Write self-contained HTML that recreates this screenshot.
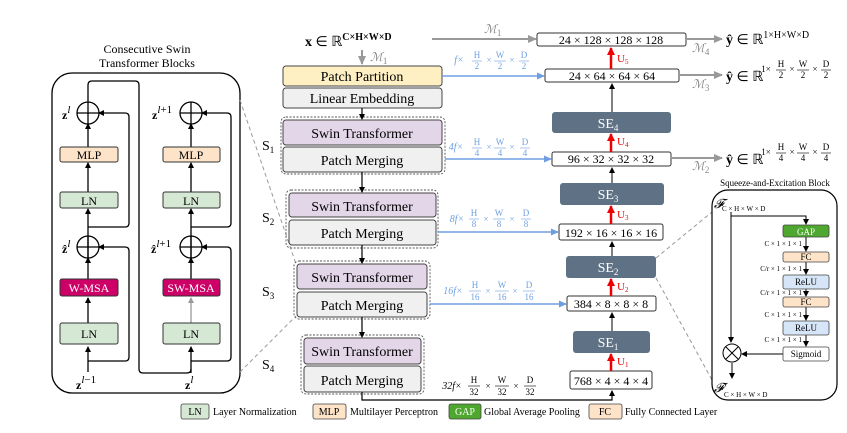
<!DOCTYPE html>
<html><head><meta charset="utf-8"><style>body{margin:0;background:#fff}svg{display:block;font-family:"Liberation Serif",serif}</style></head><body>
<svg width="847" height="433" viewBox="0 0 847 433" xmlns="http://www.w3.org/2000/svg">
<defs>
<marker id="ak" markerWidth="6" markerHeight="6" refX="5" refY="3" orient="auto" markerUnits="userSpaceOnUse"><path d="M0,0 L6,3 L0,6 z" fill="#000"/></marker>
<marker id="ag" markerWidth="9" markerHeight="8" refX="8" refY="4" orient="auto" markerUnits="userSpaceOnUse"><path d="M0,0 L9,4 L0,8 z" fill="#999"/></marker>
<marker id="ab" markerWidth="8" markerHeight="7" refX="7" refY="3.5" orient="auto" markerUnits="userSpaceOnUse"><path d="M0,0 L8,3.5 L0,7 z" fill="#6f9fe0"/></marker>
<marker id="ar" markerWidth="8" markerHeight="8" refX="7" refY="4" orient="auto" markerUnits="userSpaceOnUse"><path d="M0,0 L8,4 L0,8 z" fill="#e00"/></marker>
</defs>

<!-- Left panel -->
<text x="147" y="53" font-size="12" text-anchor="middle">Consecutive Swin</text>
<text x="147" y="67" font-size="12" text-anchor="middle">Transformer Blocks</text>
<rect x="52" y="73" width="188" height="320" rx="20" fill="none" stroke="#000" stroke-width="1.3"/>
<g stroke="#000" stroke-width="1.3" fill="none">
<line x1="88" y1="372" x2="88" y2="347" marker-end="url(#ak)"/>
<line x1="88" y1="323" x2="88" y2="298" marker-end="url(#ak)"/>
<line x1="88" y1="279" x2="88" y2="258" marker-end="url(#ak)"/>
<line x1="88" y1="258" x2="88" y2="209" marker-end="url(#ak)"/>
<line x1="88" y1="192" x2="88" y2="163" marker-end="url(#ak)"/>
<line x1="88" y1="147" x2="88" y2="124" marker-end="url(#ak)"/>
<path d="M88,361 H125 Q129,361 129,357 V251 Q129,247 125,247 H99" marker-end="url(#ak)"/>
<path d="M88,227 H125 Q129,227 129,223 V117 Q129,113 125,113 H99" marker-end="url(#ak)"/>
<path d="M88,102 V85 Q88,81 92,81 H135 Q139,81 139,85 V369 Q139,373 143,373 H187 Q191,373 191,369"/>
<circle cx="88" cy="113" r="11"/><line x1="77" y1="113" x2="99" y2="113"/><line x1="88" y1="102" x2="88" y2="124"/>
<circle cx="88" cy="247" r="11"/><line x1="77" y1="247" x2="99" y2="247"/><line x1="88" y1="236" x2="88" y2="258"/>
<line x1="191" y1="373" x2="191" y2="347" marker-end="url(#ak)"/>
<line x1="191" y1="323" x2="191" y2="298" stroke="#999"/>
<line x1="191" y1="279" x2="191" y2="258" marker-end="url(#ak)"/>
<line x1="191" y1="258" x2="191" y2="209" marker-end="url(#ak)"/>
<line x1="191" y1="192" x2="191" y2="163" marker-end="url(#ak)"/>
<line x1="191" y1="147" x2="191" y2="124" marker-end="url(#ak)"/>
<path d="M191,361 H227 Q231,361 231,357 V251 Q231,247 227,247 H202" marker-end="url(#ak)"/>
<path d="M191,227 H227 Q231,227 231,223 V117 Q231,113 227,113 H202" marker-end="url(#ak)"/>
<circle cx="191" cy="113" r="11"/><line x1="180" y1="113" x2="202" y2="113"/><line x1="191" y1="102" x2="191" y2="124"/>
<circle cx="191" cy="247" r="11"/><line x1="180" y1="247" x2="202" y2="247"/><line x1="191" y1="236" x2="191" y2="258"/>
</g>
<polygon points="188,303 194,303 191,297" fill="#999"/>
<g stroke="#333" stroke-width="1">
<rect x="60" y="147" width="58" height="15" rx="2" fill="#fde3c8"/>
<rect x="60" y="192" width="58" height="16" rx="2" fill="#d5e8d4"/>
<rect x="60" y="279" width="58" height="17" rx="2" fill="#cc0066"/>
<rect x="60" y="323" width="58" height="21" rx="2" fill="#d5e8d4"/>
<rect x="163" y="147" width="57" height="15" rx="2" fill="#fde3c8"/>
<rect x="163" y="192" width="57" height="16" rx="2" fill="#d5e8d4"/>
<rect x="163" y="279" width="57" height="17" rx="2" fill="#cc0066"/>
<rect x="163" y="323" width="57" height="21" rx="2" fill="#d5e8d4"/>
</g>
<g font-size="12" text-anchor="middle">
<text x="89" y="159">MLP</text><text x="89" y="205">LN</text><text x="89" y="292" fill="#fff">W-MSA</text><text x="89" y="338">LN</text>
<text x="191" y="159">MLP</text><text x="191" y="205">LN</text><text x="191" y="292" fill="#fff">SW-MSA</text><text x="191" y="338">LN</text>
</g>
<g font-size="12" font-weight="bold">
<text x="62" y="119">z<tspan font-weight="normal" font-style="italic" font-size="11" dy="-6">l</tspan></text>
<text x="62" y="253">ẑ<tspan font-weight="normal" font-style="italic" font-size="11" dy="-6">l</tspan></text>
<text x="152" y="119">z<tspan font-weight="normal" font-size="11" dy="-6"><tspan font-style="italic">l</tspan>+1</tspan></text>
<text x="151" y="253">ẑ<tspan font-weight="normal" font-size="11" dy="-6"><tspan font-style="italic">l</tspan>+1</tspan></text>
<text x="76" y="389">z<tspan font-weight="normal" font-size="11" dy="-6"><tspan font-style="italic">l</tspan>−1</tspan></text>
<text x="185" y="389">z<tspan font-weight="normal" font-style="italic" font-size="11" dy="-6">l</tspan></text>
</g>

<g stroke="#999" stroke-dasharray="4,3" fill="none">
<line x1="240" y1="100" x2="296" y2="264"/>
<line x1="240" y1="372" x2="296" y2="316"/>
<line x1="656" y1="258" x2="712" y2="212"/>
<line x1="656" y1="278" x2="712" y2="380"/>
</g>

<text x="305" y="46" font-size="14"><tspan font-weight="bold">x</tspan> ∈ ℝ<tspan font-size="10" dy="-6" font-weight="bold">C×H×W×D</tspan></text>
<line x1="432" y1="39" x2="536" y2="39" stroke="#999" stroke-width="2" marker-end="url(#ag)"/>
<text x="484" y="33" font-size="12" fill="#888" font-style="italic">ℳ<tspan font-size="9" dy="3" font-style="normal">1</tspan></text>
<line x1="362" y1="50" x2="362" y2="64" stroke="#999" stroke-width="2" marker-end="url(#ag)"/>
<text x="370" y="61" font-size="12" fill="#888" font-style="italic">ℳ<tspan font-size="9" dy="3" font-style="normal">1</tspan></text>

<g stroke="#444" stroke-width="1">
<rect x="283" y="66" width="159" height="20" rx="3" fill="#fff0c4"/>
<rect x="283" y="88" width="159" height="20" rx="3" fill="#f0f0f0"/>
</g>
<g stroke="#555" stroke-dasharray="2,1.5" fill="none" stroke-width="0.9">
<rect x="281" y="117" width="164" height="57" rx="5"/>
<rect x="286" y="190" width="152" height="58" rx="5"/>
<rect x="294" y="261" width="136" height="58" rx="5"/>
<rect x="301" y="335" width="123" height="59" rx="5"/>
</g>
<g stroke="#444" stroke-width="1">
<rect x="283" y="120" width="159" height="25" rx="3" fill="#e4d6e9"/>
<rect x="283" y="147" width="159" height="25" rx="3" fill="#f0f0f0"/>
<rect x="289" y="193" width="147" height="24" rx="3" fill="#e4d6e9"/>
<rect x="289" y="220" width="147" height="25" rx="3" fill="#f0f0f0"/>
<rect x="297" y="264" width="130" height="25" rx="3" fill="#e4d6e9"/>
<rect x="297" y="292" width="130" height="25" rx="3" fill="#f0f0f0"/>
<rect x="304" y="338" width="117" height="26" rx="3" fill="#e4d6e9"/>
<rect x="304" y="366" width="117" height="26" rx="3" fill="#f0f0f0"/>
</g>
<g font-size="14" text-anchor="middle">
<text x="362" y="81">Patch Partition</text>
<text x="362" y="103">Linear Embedding</text>
<text x="362" y="138">Swin Transformer</text>
<text x="362" y="165">Patch Merging</text>
<text x="362" y="211">Swin Transformer</text>
<text x="362" y="238">Patch Merging</text>
<text x="362" y="282">Swin Transformer</text>
<text x="362" y="310">Patch Merging</text>
<text x="362" y="356">Swin Transformer</text>
<text x="362" y="385">Patch Merging</text>
</g>
<g stroke="#000" stroke-width="1.2">
<line x1="362" y1="108" x2="362" y2="119" marker-end="url(#ak)"/>
<line x1="362" y1="172" x2="362" y2="192" marker-end="url(#ak)"/>
<line x1="362" y1="245" x2="362" y2="263" marker-end="url(#ak)"/>
<line x1="362" y1="317" x2="362" y2="337" marker-end="url(#ak)"/>
</g>
<path d="M362,392 V400 H612 V391" fill="none" stroke="#000" stroke-width="1.2" marker-end="url(#ak)"/>
<g font-size="14">
<text x="262" y="150">S<tspan font-size="9" dy="3">1</tspan></text>
<text x="262" y="222">S<tspan font-size="9" dy="3">2</tspan></text>
<text x="262" y="296">S<tspan font-size="9" dy="3">3</tspan></text>
<text x="262" y="369">S<tspan font-size="9" dy="3">4</tspan></text>
</g>

<g stroke="#6f9fe0" stroke-width="1.5">
<line x1="442" y1="76" x2="544" y2="76" marker-end="url(#ab)"/>
<line x1="445" y1="159" x2="551" y2="159" marker-end="url(#ab)"/>
<line x1="438" y1="232" x2="558" y2="232" marker-end="url(#ab)"/>
<line x1="430" y1="304" x2="566" y2="304" marker-end="url(#ab)"/>
</g>
<g font-size="9" fill="#6f9fe0" text-anchor="middle">
<text x="459" y="63" font-style="italic" font-size="10">f×</text>
<text x="477" y="58">H</text><line x1="472" y1="61" x2="482" y2="61" stroke="#6f9fe0" stroke-width="0.6"/><text x="477" y="69">2</text><text x="489" y="63">×</text>
<text x="500" y="58">W</text><line x1="494" y1="61" x2="506" y2="61" stroke="#6f9fe0" stroke-width="0.6"/><text x="500" y="69">2</text><text x="512" y="63">×</text>
<text x="524" y="58">D</text><line x1="519" y1="61" x2="529" y2="61" stroke="#6f9fe0" stroke-width="0.6"/><text x="524" y="69">2</text>

<text x="456" y="150" font-style="italic" font-size="10">4f×</text>
<text x="477" y="145">H</text><line x1="472" y1="148" x2="482" y2="148" stroke="#6f9fe0" stroke-width="0.6"/><text x="477" y="156">4</text><text x="489" y="150">×</text>
<text x="500" y="145">W</text><line x1="494" y1="148" x2="506" y2="148" stroke="#6f9fe0" stroke-width="0.6"/><text x="500" y="156">4</text><text x="512" y="150">×</text>
<text x="525" y="145">D</text><line x1="520" y1="148" x2="530" y2="148" stroke="#6f9fe0" stroke-width="0.6"/><text x="525" y="156">4</text>

<text x="457" y="222" font-style="italic" font-size="10">8f×</text>
<text x="474" y="216">H</text><line x1="469" y1="219" x2="479" y2="219" stroke="#6f9fe0" stroke-width="0.6"/><text x="474" y="227">8</text><text x="486" y="222">×</text>
<text x="499" y="216">W</text><line x1="493" y1="219" x2="505" y2="219" stroke="#6f9fe0" stroke-width="0.6"/><text x="499" y="227">8</text><text x="512" y="222">×</text>
<text x="526" y="216">D</text><line x1="521" y1="219" x2="531" y2="219" stroke="#6f9fe0" stroke-width="0.6"/><text x="526" y="227">8</text>

<text x="453" y="294" font-style="italic" font-size="10">16f×</text>
<text x="475" y="288">H</text><line x1="469" y1="291" x2="481" y2="291" stroke="#6f9fe0" stroke-width="0.6"/><text x="475" y="300">16</text><text x="488" y="294">×</text>
<text x="502" y="288">W</text><line x1="495" y1="291" x2="509" y2="291" stroke="#6f9fe0" stroke-width="0.6"/><text x="502" y="300">16</text><text x="515" y="294">×</text>
<text x="529" y="288">D</text><line x1="523" y1="291" x2="535" y2="291" stroke="#6f9fe0" stroke-width="0.6"/><text x="529" y="300">16</text>
</g>
<g font-size="9" text-anchor="middle">
<text x="452" y="389" font-style="italic" font-size="10">32f×</text>
<text x="474" y="383">H</text><line x1="468" y1="386" x2="480" y2="386" stroke="#000" stroke-width="0.6"/><text x="474" y="395">32</text><text x="488" y="389">×</text>
<text x="502" y="383">W</text><line x1="495" y1="386" x2="509" y2="386" stroke="#000" stroke-width="0.6"/><text x="502" y="395">32</text><text x="516" y="389">×</text>
<text x="530" y="383">D</text><line x1="524" y1="386" x2="536" y2="386" stroke="#000" stroke-width="0.6"/><text x="530" y="395">32</text>
</g>

<g stroke="#333" stroke-width="1" fill="#fff">
<rect x="537" y="33" width="149" height="13" rx="2"/>
<rect x="545" y="69" width="134" height="13" rx="2"/>
<rect x="552" y="152" width="119" height="14" rx="2"/>
<rect x="559" y="224" width="104" height="16" rx="2"/>
<rect x="567" y="296" width="89" height="15" rx="2"/>
<rect x="570" y="371" width="82" height="18" rx="2"/>
</g>
<g fill="#5f7184">
<rect x="552" y="112" width="119" height="21" rx="3"/>
<rect x="560" y="183" width="104" height="22" rx="3"/>
<rect x="566" y="256" width="90" height="22" rx="3"/>
<rect x="573" y="331" width="77" height="22" rx="3"/>
</g>
<g font-size="12" text-anchor="middle">
<text x="611" y="44">24 × 128 × 128 × 128</text>
<text x="612" y="80">24 × 64 × 64 × 64</text>
<text x="611" y="163">96 × 32 × 32 × 32</text>
<text x="611" y="237">192 × 16 × 16 × 16</text>
<text x="611" y="308">384 × 8 × 8 × 8</text>
<text x="611" y="385">768 × 4 × 4 × 4</text>
</g>
<g font-size="14" text-anchor="middle" fill="#fff">
<text x="608" y="128">SE<tspan font-size="9" dy="3">4</tspan></text>
<text x="608" y="199">SE<tspan font-size="9" dy="3">3</tspan></text>
<text x="608" y="272">SE<tspan font-size="9" dy="3">2</tspan></text>
<text x="608" y="347">SE<tspan font-size="9" dy="3">1</tspan></text>
</g>
<g stroke="#000" stroke-width="1">
<line x1="612" y1="112" x2="612" y2="84" marker-end="url(#ak)"/>
<line x1="612" y1="183" x2="612" y2="168" marker-end="url(#ak)"/>
<line x1="612" y1="256" x2="612" y2="242" marker-end="url(#ak)"/>
<line x1="612" y1="331" x2="612" y2="313" marker-end="url(#ak)"/>
</g>
<g stroke="#e00" stroke-width="2.5">
<line x1="611" y1="69" x2="611" y2="48" marker-end="url(#ar)"/>
<line x1="611" y1="152" x2="611" y2="134" marker-end="url(#ar)"/>
<line x1="611" y1="224" x2="611" y2="206" marker-end="url(#ar)"/>
<line x1="611" y1="296" x2="611" y2="279" marker-end="url(#ar)"/>
<line x1="611" y1="371" x2="611" y2="354" marker-end="url(#ar)"/>
</g>
<g font-size="11" fill="#e00">
<text x="617" y="62">U<tspan font-size="7" dy="2">5</tspan></text>
<text x="617" y="145">U<tspan font-size="7" dy="2">4</tspan></text>
<text x="617" y="218">U<tspan font-size="7" dy="2">3</tspan></text>
<text x="617" y="290">U<tspan font-size="7" dy="2">2</tspan></text>
<text x="617" y="365">U<tspan font-size="7" dy="2">1</tspan></text>
</g>

<g stroke="#999" stroke-width="2">
<line x1="686" y1="39" x2="722" y2="39" marker-end="url(#ag)"/>
<line x1="679" y1="75" x2="722" y2="75" marker-end="url(#ag)"/>
<line x1="671" y1="158" x2="722" y2="158" marker-end="url(#ag)"/>
</g>
<g font-size="12" fill="#888" font-style="italic">
<text x="692" y="52">ℳ<tspan font-size="9" dy="3" font-style="normal">4</tspan></text>
<text x="692" y="88">ℳ<tspan font-size="9" dy="3" font-style="normal">3</tspan></text>
<text x="692" y="170">ℳ<tspan font-size="9" dy="3" font-style="normal">2</tspan></text>
</g>
<g font-size="14">
<text x="726" y="44"><tspan font-weight="bold">ŷ</tspan> ∈ ℝ<tspan font-size="10" dy="-6">1×H×W×D</tspan></text>
<text x="726" y="81"><tspan font-weight="bold">ŷ</tspan> ∈ ℝ</text>
<text x="726" y="164"><tspan font-weight="bold">ŷ</tspan> ∈ ℝ</text>
</g>
<g font-size="9" text-anchor="middle">
<text x="766" y="72">1×</text>
<text x="781" y="67">H</text><line x1="776" y1="70" x2="786" y2="70" stroke="#000" stroke-width="0.6"/><text x="781" y="78">2</text><text x="792" y="72">×</text>
<text x="803" y="67">W</text><line x1="797" y1="70" x2="809" y2="70" stroke="#000" stroke-width="0.6"/><text x="803" y="78">2</text><text x="815" y="72">×</text>
<text x="826" y="67">D</text><line x1="821" y1="70" x2="831" y2="70" stroke="#000" stroke-width="0.6"/><text x="826" y="78">2</text>

<text x="766" y="155">1×</text>
<text x="781" y="150">H</text><line x1="776" y1="153" x2="786" y2="153" stroke="#000" stroke-width="0.6"/><text x="781" y="161">4</text><text x="792" y="155">×</text>
<text x="803" y="150">W</text><line x1="797" y1="153" x2="809" y2="153" stroke="#000" stroke-width="0.6"/><text x="803" y="161">4</text><text x="815" y="155">×</text>
<text x="826" y="150">D</text><line x1="821" y1="153" x2="831" y2="153" stroke="#000" stroke-width="0.6"/><text x="826" y="161">4</text>
</g>

<text x="775" y="186" font-size="9" text-anchor="middle">Squeeze-and-Excitation Block</text>
<rect x="712" y="190" width="125" height="210" rx="16" fill="none" stroke="#000" stroke-width="1.2"/>
<text x="714" y="208" font-size="13" font-style="italic">𝓕</text>
<text x="722" y="211" font-size="7">C × H × W × D</text>
<g stroke="#000" stroke-width="1" fill="none">
<line x1="731" y1="212" x2="731" y2="342" marker-end="url(#ak)"/>
<path d="M731,216 H806 V224" marker-end="url(#ak)"/>
<line x1="806" y1="237" x2="806" y2="251" marker-end="url(#ak)"/>
<line x1="806" y1="262" x2="806" y2="274" marker-end="url(#ak)"/>
<line x1="806" y1="289" x2="806" y2="296" marker-end="url(#ak)"/>
<line x1="806" y1="307" x2="806" y2="320" marker-end="url(#ak)"/>
<line x1="806" y1="335" x2="806" y2="346" marker-end="url(#ak)"/>
<line x1="783" y1="354" x2="742" y2="354" marker-end="url(#ak)"/>
<line x1="732" y1="363" x2="732" y2="378" marker-end="url(#ak)"/>
<circle cx="732" cy="353" r="9"/>
<line x1="726" y1="347" x2="738" y2="359"/><line x1="738" y1="347" x2="726" y2="359"/>
</g>
<g stroke="#444" stroke-width="0.8">
<rect x="783" y="225" width="46" height="12" rx="2" fill="#4ea72e"/>
<rect x="783" y="252" width="46" height="10" rx="2" fill="#fde3c8"/>
<rect x="783" y="275" width="46" height="14" rx="2" fill="#d6e6f8"/>
<rect x="783" y="297" width="46" height="10" rx="2" fill="#fde3c8"/>
<rect x="783" y="321" width="46" height="14" rx="2" fill="#d6e6f8"/>
<rect x="783" y="347" width="46" height="14" rx="2" fill="#fff"/>
</g>
<g font-size="9" text-anchor="middle">
<text x="806" y="235" fill="#fff">GAP</text>
<text x="806" y="260">FC</text>
<text x="806" y="285">ReLU</text>
<text x="806" y="305">FC</text>
<text x="806" y="331">ReLU</text>
<text x="806" y="357">Sigmoid</text>
</g>
<g font-size="7" text-anchor="end">
<text x="802" y="246">C × 1 × 1 × 1</text>
<text x="802" y="271">C/r × 1 × 1 × 1</text>
<text x="802" y="295">C/r × 1 × 1 × 1</text>
<text x="802" y="317">C × 1 × 1 × 1</text>
<text x="802" y="342">C × 1 × 1 × 1</text>
</g>
<text x="714" y="392" font-size="13" font-style="italic">𝓕′</text>
<text x="724" y="397" font-size="7">C × H × W × D</text>

<g stroke="#444" stroke-width="0.8">
<rect x="181" y="404" width="28" height="15" rx="2" fill="#d5e8d4"/>
<rect x="313" y="404" width="33" height="15" rx="2" fill="#fde3c8"/>
<rect x="449" y="404" width="32" height="15" rx="2" fill="#4ea72e"/>
<rect x="589" y="404" width="33" height="15" rx="2" fill="#fde3c8"/>
</g>
<g font-size="10">
<text x="195" y="415" text-anchor="middle">LN</text>
<text x="329" y="415" text-anchor="middle">MLP</text>
<text x="465" y="415" text-anchor="middle" fill="#fff">GAP</text>
<text x="605" y="415" text-anchor="middle">FC</text>
<text x="213" y="415">Layer Normalization</text>
<text x="350" y="415">Multilayer Perceptron</text>
<text x="484" y="415">Global Average Pooling</text>
<text x="625" y="415">Fully Connected Layer</text>
</g>
</svg>
</body></html>
